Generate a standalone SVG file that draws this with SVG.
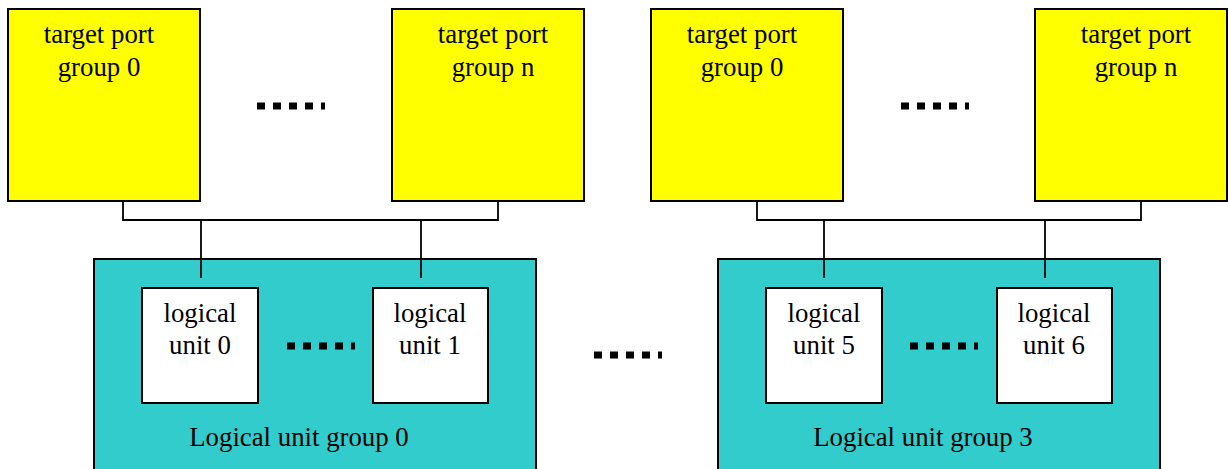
<svg xmlns="http://www.w3.org/2000/svg" width="1228" height="469" viewBox="0 0 1228 469">
<style>
.tp{fill:#FFFF00;stroke:#000;stroke-width:2}
.lg{fill:#33CCCC;stroke:#000;stroke-width:2}
.lu{fill:#FFFFFF;stroke:#000;stroke-width:2}
.t{font-family:"Liberation Serif","Times New Roman",serif;font-size:26.8px;fill:#000;text-anchor:middle}
.c{fill:none;stroke:#000;stroke-width:1.8}
.dots{stroke:#000;stroke-width:7;stroke-dasharray:8 8;fill:none}
</style>
<rect width="1228" height="469" fill="#fff"/>
<g id="tpg0a"><rect class="tp" x="8" y="9" width="192" height="192"/><text class="t" x="99" y="43">target port</text><text class="t" x="99" y="76">group 0</text></g>
<g id="tpgna"><rect class="tp" x="392" y="9" width="192" height="192"/><text class="t" x="493" y="43">target port</text><text class="t" x="493" y="76">group n</text></g>
<g id="tpg0b"><rect class="tp" x="651" y="9" width="192" height="192"/><text class="t" x="742" y="43">target port</text><text class="t" x="742" y="76">group 0</text></g>
<g id="tpgnb"><rect class="tp" x="1035" y="9" width="192" height="192"/><text class="t" x="1136" y="43">target port</text><text class="t" x="1136" y="76">group n</text></g>
<g id="lug0"><rect class="lg" x="94" y="259" width="442" height="230"/><text class="t" x="299" y="446">Logical unit group 0</text></g>
<g id="lug3"><rect class="lg" x="718" y="259" width="442" height="230"/><text class="t" x="923" y="446">Logical unit group 3</text></g>
<g id="lu0"><rect class="lu" x="142" y="288" width="116" height="115"/><text class="t" x="200" y="322">logical</text><text class="t" x="200" y="354">unit 0</text></g>
<g id="lu1"><rect class="lu" x="373" y="288" width="115" height="115"/><text class="t" x="430" y="322">logical</text><text class="t" x="430" y="354">unit 1</text></g>
<g id="lu5"><rect class="lu" x="766" y="288" width="116" height="115"/><text class="t" x="824" y="322">logical</text><text class="t" x="824" y="354">unit 5</text></g>
<g id="lu6"><rect class="lu" x="997" y="288" width="115" height="115"/><text class="t" x="1054" y="322">logical</text><text class="t" x="1054" y="354">unit 6</text></g>
<g id="ellipses">
<line class="dots" x1="257" y1="106" x2="325" y2="106"/>
<line class="dots" x1="901" y1="106" x2="969" y2="106"/>
<line class="dots" x1="594" y1="355" x2="662" y2="355"/>
<line class="dots" x1="287" y1="346" x2="355" y2="346"/>
<line class="dots" x1="910" y1="346" x2="978" y2="346"/>
</g>
<g id="connectors">
<polyline class="c" points="123,201 123,220 498,220 498,201"/>
<line class="c" x1="201" y1="220" x2="201" y2="278"/>
<line class="c" x1="421" y1="220" x2="421" y2="278"/>
<polyline class="c" points="757,201 757,220 1141,220 1141,201"/>
<line class="c" x1="824" y1="220" x2="824" y2="278"/>
<line class="c" x1="1045" y1="220" x2="1045" y2="278"/>
</g>
</svg>
